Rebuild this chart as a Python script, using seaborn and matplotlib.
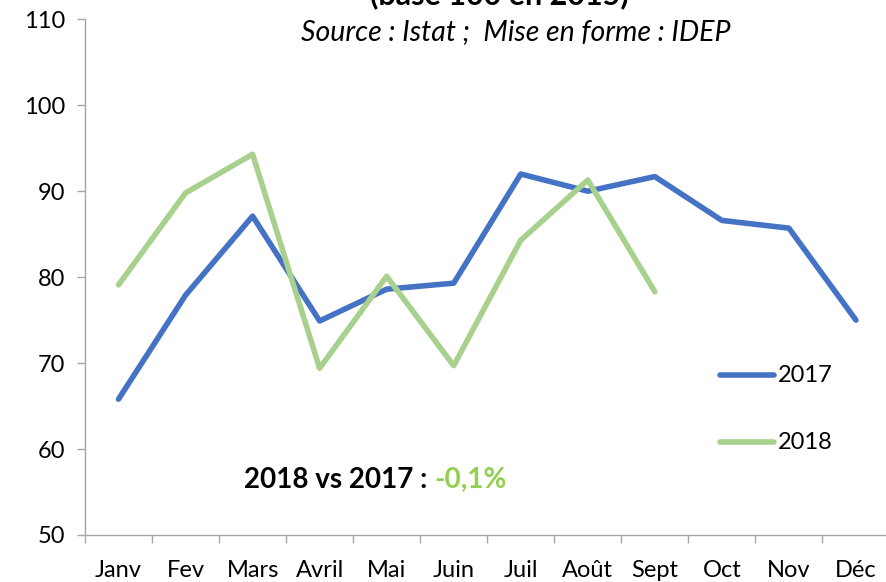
import numpy as np
import pandas as pd
import seaborn as sns
import matplotlib
matplotlib.use("Agg")
import matplotlib.pyplot as plt
from matplotlib.ticker import FixedLocator

mois = ["Janv", "Fev", "Mars", "Avril", "Mai", "Juin", "Juil", "Août", "Sept", "Oct", "Nov", "Déc"]
val_2017 = [65.8, 77.9, 87.1, 74.9, 78.6, 79.3, 92.0, 90.0, 91.7, 86.6, 85.7, 75.0]
val_2018 = [79.1, 89.8, 94.3, 69.4, 80.1, 69.7, 84.3, 91.3, 78.3]

sns.set_style("white")
plt.rcParams['font.family'] = ['Lato', 'DejaVu Sans']
plt.rcParams['text.color'] = 'black'

rows = []
for i, v in enumerate(val_2017):
    rows.append(("2017", i, v))
for i, v in enumerate(val_2018):
    rows.append(("2018", i, v))
df = pd.DataFrame(rows, columns=["annee", "pos", "valeur"])

fig = plt.figure(figsize=(8.87, 5.82), dpi=100)
ax = fig.add_axes([0.0958, 0.0808, 0.907, 0.886])

sns.lineplot(data=df, x="pos", y="valeur", hue="annee",
             palette={"2017": "#4472C4", "2018": "#A9D18E"},
             linewidth=4, ax=ax, legend=False)

ax.set_xlim(-0.5, 11.5)
ax.set_ylim(50, 110)
ax.set_yticks(range(50, 111, 10))
ax.set_xticks(range(12))
ax.set_xticklabels(mois)
ax.xaxis.set_minor_locator(FixedLocator(np.arange(-0.5, 11.0, 1.0)))
ax.tick_params(axis="x", which="major", length=0, pad=18, labelsize=17, labelcolor="black")
ax.tick_params(axis="x", which="minor", length=6, color="#A6A6A6", width=1, direction="out")
ax.tick_params(axis="y", length=6, color="#A6A6A6", width=1, direction="out",
               labelsize=17, pad=8, labelcolor="black")
ax.tick_params(bottom=True, left=True, which="both")
ax.set_xlabel("")
ax.set_ylabel("")
for s in ["top", "right"]:
    ax.spines[s].set_visible(False)
for s in ["left", "bottom"]:
    ax.spines[s].set_color("#A6A6A6")
    ax.spines[s].set_linewidth(1)

# legende
ax.plot([8.97, 9.78], [68.6, 68.6], color="#4472C4", linewidth=4, solid_capstyle="round")
ax.text(9.84, 68.6, "2017", fontsize=17, va="center")
ax.plot([8.97, 9.78], [60.8, 60.8], color="#A9D18E", linewidth=4, solid_capstyle="round")
ax.text(9.84, 60.8, "2018", fontsize=17, va="center")

# titres
fig.text(0.563, 1 - 4 / 582, "(base 100 en 2015)", fontsize=22, fontweight="bold",
         ha="center", va="baseline")
fig.text(0.582, 0.945, "Source : Istat ;  Mise en forme : IDEP", fontsize=20.5,
         style="italic", ha="center", va="center")

# variation
t = ax.text(1.87, 56.4, "2018 vs 2017 : ", fontsize=20, fontweight="bold", va="center")
ax.annotate("-0,1%", xy=(1, 0.5), xycoords=t, va="center", ha="left",
            fontsize=20, fontweight="bold", color="#92D050")

fig.savefig("out.png", dpi=100)
